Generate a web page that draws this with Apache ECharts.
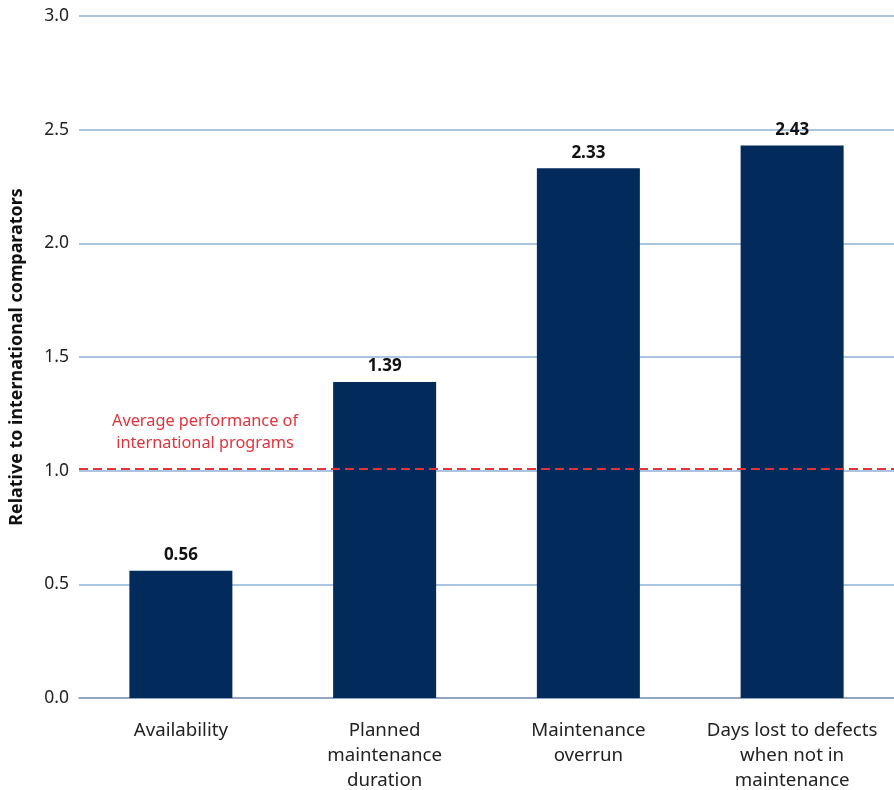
<!DOCTYPE html>
<html>
<head>
<meta charset="utf-8">
<script src="https://cdn.jsdelivr.net/npm/echarts@6/dist/echarts.min.js"></script>
<style>
  html, body { margin: 0; padding: 0; background: #fff; }
  #chart { width: 894px; height: 790px; }
</style>
</head>
<body>
<div id="chart"></div>
<script>
const categories = [
  'Availability',
  'Planned\nmaintenance\nduration',
  'Maintenance\noverrun',
  'Days lost to defects\nwhen not in\nmaintenance'
];
const values = [0.56, 1.39, 2.33, 2.43];
const averageLevel = 1.015;
const averageLabel = 'Average performance of\ninternational programs';
const yTitle = 'Relative to international comparators';

const font = '"Noto Sans", sans-serif';
const chart = echarts.init(document.getElementById('chart'));

chart.setOption({
  animation: false,
  textStyle: { fontFamily: font },
  grid: { left: 79, right: 0, top: 16, bottom: 92, outerBoundsMode: 'none', containLabel: false },
  xAxis: {
    type: 'category',
    data: categories,
    axisTick: { show: false },
    axisLine: { lineStyle: { color: '#8a9ab3', width: 1.5 } },
    axisLabel: {
      color: '#222',
      fontSize: 18.7,
      lineHeight: 25,
      margin: 20,
      interval: 0,
      fontFamily: font
    }
  },
  yAxis: {
    type: 'value',
    min: 0,
    max: 3,
    interval: 0.5,
    name: yTitle,
    nameLocation: 'middle',
    nameGap: 53,
    nameTextStyle: { fontSize: 17.9, fontWeight: 'bold', color: '#111', fontFamily: font },
    axisLine: { show: false },
    axisTick: { show: false },
    axisLabel: {
      color: '#222',
      fontSize: 17.5,
      margin: 10,
      formatter: v => v.toFixed(1),
      fontFamily: font
    },
    splitLine: { lineStyle: { color: '#8fb0d6', width: 1.5 } }
  },
  graphic: [{
    type: 'text',
    x: 205,
    y: 410,
    style: {
      text: averageLabel,
      fill: '#e0343c',
      font: '16.3px ' + font,
      align: 'center',
      lineHeight: 22
    }
  }],
  series: [{
    type: 'bar',
    data: values,
    barWidth: 103,
    itemStyle: { color: '#022b5c' },
    label: {
      show: true,
      position: 'top',
      distance: 7,
      color: '#111',
      fontWeight: 'bold',
      fontSize: 17,
      fontFamily: font,
      formatter: p => p.value.toFixed(2)
    },
    markLine: {
      symbol: 'none',
      silent: true,
      label: { show: false },
      lineStyle: { color: '#e0343c', type: [9, 5], width: 2 },
      data: [{ yAxis: averageLevel }]
    },
    z: 2
  }]
});
</script>
</body>
</html>
